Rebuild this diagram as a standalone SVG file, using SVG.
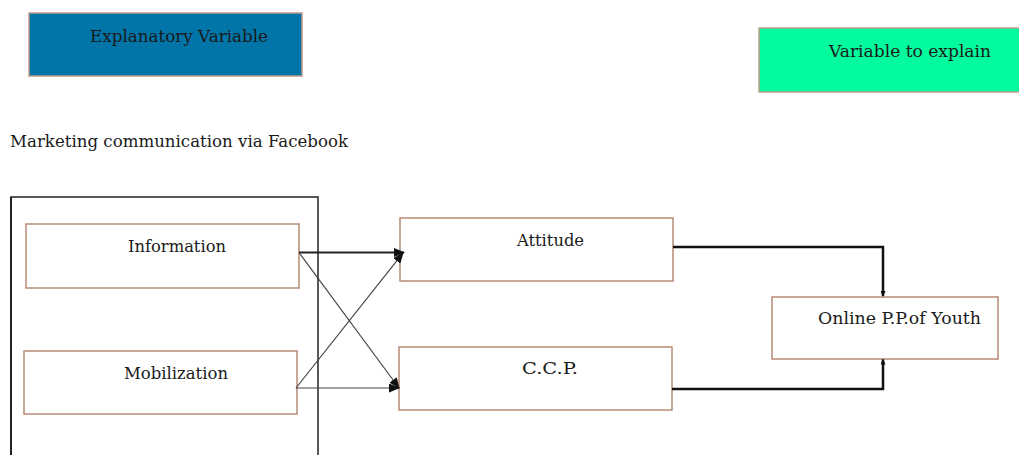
<svg xmlns="http://www.w3.org/2000/svg" width="1019" height="455" viewBox="0 0 1019 455">
<style>
text{font-family:"DejaVu Serif","Liberation Serif",serif;font-size:17px;fill:#1a1a1a}
.box{fill:#fff;stroke:#b88a76;stroke-width:1.5}
.thin{stroke:#444;stroke-width:1.2;fill:none}
.bold{stroke:#111;stroke-width:2.5;fill:none}
</style>
<defs>
<marker id="ah" markerWidth="11" markerHeight="9" refX="10" refY="4.5" orient="auto" markerUnits="userSpaceOnUse">
<path d="M0,0 L11,4.5 L0,9 Z" fill="#111"/>
</marker>
<marker id="sm" markerWidth="6" markerHeight="5" refX="5" refY="2.5" orient="auto" markerUnits="userSpaceOnUse">
<path d="M0,0 L6,2.5 L0,5 Z" fill="#111"/>
</marker>
</defs>
<g id="legend-explanatory">
<rect x="29" y="13" width="273" height="63" fill="#0174a8" stroke="#c09a8c" stroke-width="1.5"/>
<text x="90" y="42" textLength="178" lengthAdjust="spacingAndGlyphs">Explanatory Variable</text>
</g>
<g id="legend-explain">
<rect x="759" y="28" width="262" height="64" fill="#03fb9d" stroke="#c09a8c" stroke-width="1.5"/>
<text x="829" y="57" textLength="162" lengthAdjust="spacingAndGlyphs">Variable to explain</text>
</g>
<g id="title">
<text x="10" y="147" textLength="338" lengthAdjust="spacingAndGlyphs">Marketing communication via Facebook</text>
</g>
<g id="group-box">
<path d="M11,460 L11,197 L318,197 L318,460" fill="none" stroke="#222" stroke-width="1.5"/>
<line x1="11" y1="197" x2="11" y2="460" stroke="#222" stroke-width="2"/>
</g>
<g id="information">
<rect class="box" x="26" y="224" width="273" height="64"/>
<text x="128" y="252" textLength="98" lengthAdjust="spacingAndGlyphs">Information</text>
</g>
<g id="mobilization">
<rect class="box" x="24" y="351" width="273" height="63"/>
<text x="124" y="379" textLength="104" lengthAdjust="spacingAndGlyphs">Mobilization</text>
</g>
<g id="attitude">
<rect class="box" x="400" y="218" width="273" height="63"/>
<text x="517" y="246" textLength="67" lengthAdjust="spacingAndGlyphs">Attitude</text>
</g>
<g id="ccp">
<rect class="box" x="399" y="347" width="273" height="63"/>
<text x="522" y="374" textLength="56" lengthAdjust="spacingAndGlyphs">C.C.P.</text>
</g>
<g id="online">
<rect class="box" x="772" y="297" width="226" height="62"/>
<text x="818" y="324" textLength="163" lengthAdjust="spacingAndGlyphs">Online P.P.of Youth</text>
</g>
<g id="connectors">
<line x1="299" y1="252.5" x2="404" y2="252.5" stroke="#222" stroke-width="2" marker-end="url(#ah)"/>
<line class="thin" x1="299" y1="252.5" x2="399" y2="388" marker-end="url(#ah)"/>
<line class="thin" x1="296" y1="388" x2="403" y2="253" marker-end="url(#ah)"/>
<line class="thin" x1="296" y1="388" x2="399" y2="388" marker-end="url(#ah)"/>
<path class="bold" d="M673,247 L883,247 L883,296" marker-end="url(#sm)"/>
<path class="bold" d="M672,389 L883,389 L883,359.5" marker-end="url(#sm)"/>
</g>
</svg>
